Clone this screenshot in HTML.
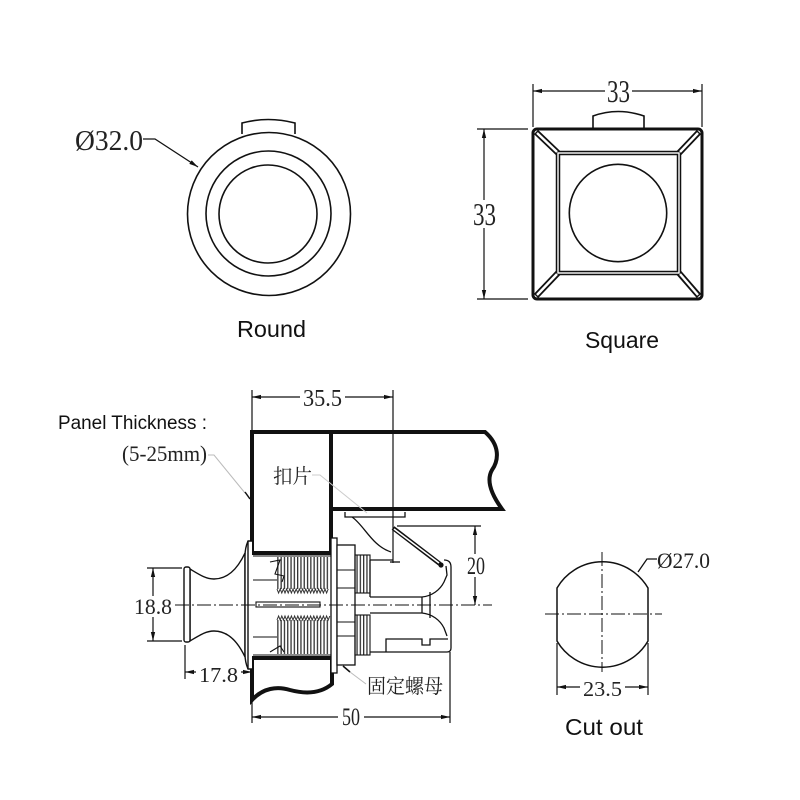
<!DOCTYPE html>
<html><head><meta charset="utf-8"><style>
html,body{margin:0;padding:0;background:#fff;}
svg{display:block;}
.s{font-family:"Liberation Serif","Noto Serif CJK SC",serif;fill:#222;}
.a{font-family:"Liberation Sans",sans-serif;fill:#111;}
.c{font-family:"Liberation Serif","Noto Serif CJK SC",serif;fill:#222;}
</style></head><body>
<svg width="800" height="800" viewBox="0 0 800 800" xmlns="http://www.w3.org/2000/svg">
<defs>
<marker id="ar" viewBox="0 0 10 10" refX="10" refY="5" markerUnits="userSpaceOnUse" markerWidth="9" markerHeight="9" orient="auto-start-reverse">
<path d="M0,2.6 L10,5 L0,7.4 z" fill="#111"/>
</marker>
<pattern id="th" width="3.3" height="10" patternUnits="userSpaceOnUse">
<rect x="0" y="0" width="1.3" height="10" fill="#333"/>
</pattern>
</defs>
<rect width="800" height="800" fill="#fff"/>

<!-- ROUND -->
<g fill="none" stroke="#111" stroke-width="1.6">
<path d="M242,134 L242,123 Q268,116 295,123 L295,134" fill="#fff"/>
<circle cx="269" cy="214" r="81.5" fill="#fff"/>
<circle cx="268.5" cy="213.5" r="62.5"/>
<circle cx="268" cy="214" r="49"/>
</g>
<text class="s" x="75" y="150" font-size="28" textLength="68" lengthAdjust="spacingAndGlyphs">Ø32.0</text>
<path d="M143,139 L155,139 L198,167" fill="none" stroke="#111" stroke-width="1.3" marker-end="url(#ar)"/>
<text class="a" x="237" y="337" font-size="23" textLength="69" lengthAdjust="spacingAndGlyphs">Round</text>

<!-- SQUARE -->
<g fill="none" stroke="#111">
<path d="M593,129 L593,116 Q618,107 644,116 L644,129" fill="#fff" stroke-width="1.6"/>
<rect x="533" y="129" width="169" height="170" rx="4" stroke-width="3" fill="#fff"/>
<g stroke-width="6">
<line x1="536" y1="132" x2="558" y2="153"/>
<line x1="699" y1="132" x2="679" y2="153"/>
<line x1="536" y1="296" x2="558" y2="273"/>
<line x1="699" y1="296" x2="679" y2="273"/>
</g>
<rect x="558" y="153" width="121" height="120" stroke-width="4.5"/>
<g stroke="#fff" stroke-width="2.4">
<line x1="537" y1="133" x2="557" y2="152"/>
<line x1="698" y1="133" x2="680" y2="152"/>
<line x1="537" y1="295" x2="557" y2="274"/>
<line x1="698" y1="295" x2="680" y2="274"/>
</g>
<rect x="558" y="153" width="121" height="120" stroke="#fff" stroke-width="1.4"/>
<circle cx="618" cy="213" r="48.7" stroke-width="1.6"/>
</g>
<!-- square dims -->
<g stroke="#111" stroke-width="1.2" fill="none">
<line x1="533" y1="84" x2="533" y2="127"/>
<line x1="702" y1="84" x2="702" y2="127"/>
<line x1="605" y1="91" x2="533" y2="91" marker-end="url(#ar)"/>
<line x1="632" y1="91" x2="702" y2="91" marker-end="url(#ar)"/>
<line x1="477" y1="129" x2="528" y2="129"/>
<line x1="477" y1="299" x2="528" y2="299"/>
<line x1="484" y1="200" x2="484" y2="129" marker-end="url(#ar)"/>
<line x1="484" y1="228" x2="484" y2="299" marker-end="url(#ar)"/>
</g>
<text class="s" x="607" y="102" font-size="32" textLength="23" lengthAdjust="spacingAndGlyphs">33</text>
<text class="s" x="473" y="225" font-size="32" textLength="23" lengthAdjust="spacingAndGlyphs">33</text>
<text class="a" x="585" y="348" font-size="23" textLength="74" lengthAdjust="spacingAndGlyphs">Square</text>

<!-- PANEL + LOCK -->
<text class="a" x="58" y="429" font-size="19" textLength="149" lengthAdjust="spacingAndGlyphs">Panel Thickness :</text>
<text class="s" x="122" y="461" font-size="22" textLength="85" lengthAdjust="spacingAndGlyphs">(5-25mm)</text>
<path d="M208,455 L214,455 L245,493" fill="none" stroke="#bbb" stroke-width="1"/>
<line x1="245" y1="492" x2="250" y2="499" stroke="#111" stroke-width="1.5"/>

<!-- 35.5 dim -->
<g stroke="#111" stroke-width="1.2" fill="none">
<line x1="252" y1="390" x2="252" y2="432"/>
<line x1="393" y1="390" x2="393" y2="563"/>
<line x1="300" y1="397" x2="252" y2="397" marker-end="url(#ar)"/>
<line x1="345" y1="397" x2="393" y2="397" marker-end="url(#ar)"/>
</g>
<text class="s" x="303" y="406" font-size="24" textLength="39" lengthAdjust="spacingAndGlyphs">35.5</text>

<!-- panel thick outline -->
<g fill="none" stroke="#111" stroke-width="4" stroke-linejoin="miter">
<path d="M252,553 L252,432 L485,432 C500,445 499,460 492,470 C485,482 494,498 502,509 L331,509"/>
<path d="M252,432 L252,553 L331,553 L331,432"/>
<path d="M252,658 L332,658 L332,684 C320,694 305,694 290,690 C277,686 263,688 252,700 Z"/>
</g>
<text class="c" x="273" y="483" font-size="20" textLength="39" lengthAdjust="spacingAndGlyphs">扣片</text>
<path d="M312,475 L320,475 L367,513" fill="none" stroke="#ccc" stroke-width="1"/>

<!-- bracket under panel -->
<g fill="none" stroke="#111" stroke-width="1.3">
<path d="M345,512 L345,517 L405,517 L405,512"/>
<path d="M352,517 C364,525 372,546 391,552"/>
<line x1="390" y1="562" x2="400" y2="562"/>
<line x1="397" y1="526" x2="481" y2="526"/>
</g>
<!-- latch diagonal -->
<line x1="393" y1="528" x2="440" y2="564" stroke="#111" stroke-width="4.5"/>
<line x1="394" y1="529" x2="439" y2="563" stroke="#fff" stroke-width="1.5"/>
<circle cx="441" cy="565" r="2.6" fill="#111"/>

<!-- knob -->
<g fill="#fff" stroke="#111" stroke-width="1.4">
<path d="M190,569 C200,575 206,579 214,579 C228,579 238,568 245,553 L245,657 C238,642 228,631 214,631 C206,631 200,635 190,641 Z"/>
<rect x="184" y="567" width="6" height="75" rx="2"/>
<path d="M252,541 L248,541 Q245,548 245,556 L245,654 Q245,662 248,669 L252,669"/>
<line x1="248" y1="541" x2="248" y2="669"/>
</g>

<!-- thread body -->
<g stroke="#111" stroke-width="1.1" fill="none">
<line x1="253" y1="580" x2="277" y2="580"/>
<line x1="253" y1="637" x2="277" y2="637"/>
<line x1="253" y1="556" x2="331" y2="556"/>
<line x1="253" y1="655" x2="331" y2="655"/>
</g>
<rect x="277" y="557" width="53" height="32" fill="url(#th)"/>
<rect x="277" y="620" width="53" height="34" fill="url(#th)"/>
<path d="M277,589 l1.6,4 l1.6,-4 l1.6,4 l1.6,-4 l1.6,4 l1.6,-4 l1.6,4 l1.6,-4 l1.6,4 l1.6,-4 l1.6,4 l1.6,-4 l1.6,4 l1.6,-4 l1.6,4 l1.6,-4 l1.6,4 l1.6,-4 l1.6,4 l1.6,-4 l1.6,4 l1.6,-4 l1.6,4 l1.6,-4 l1.6,4 l1.6,-4 l1.6,4 l1.6,-4 l1.6,4 l1.6,-4 l1.6,4 l1.6,-4" fill="none" stroke="#333" stroke-width="1"/>
<path d="M277,620 l1.6,-4 l1.6,4 l1.6,-4 l1.6,4 l1.6,-4 l1.6,4 l1.6,-4 l1.6,4 l1.6,-4 l1.6,4 l1.6,-4 l1.6,4 l1.6,-4 l1.6,4 l1.6,-4 l1.6,4 l1.6,-4 l1.6,4 l1.6,-4 l1.6,4 l1.6,-4 l1.6,4 l1.6,-4 l1.6,4 l1.6,-4 l1.6,4 l1.6,-4 l1.6,4 l1.6,-4 l1.6,4 l1.6,-4 l1.6,4 l1.6,-4" fill="none" stroke="#333" stroke-width="1"/>
<g fill="none" stroke="#111" stroke-width="1.1">
<path d="M270,562 L280,560 L275,574 L284,576 L282,582"/>
<path d="M270,652 L280,646 L284,652"/>
<rect x="256" y="602" width="64" height="5"/>
</g>

<!-- nut -->
<g fill="#fff" stroke="#111" stroke-width="1.3">
<rect x="331" y="538" width="6" height="135"/>
<rect x="337" y="545" width="18" height="120"/>
</g>
<g stroke="#111" stroke-width="1.1">
<line x1="337" y1="570" x2="355" y2="570"/>
<line x1="337" y1="588" x2="355" y2="588"/>
<line x1="337" y1="622" x2="355" y2="622"/>
<line x1="337" y1="636" x2="355" y2="636"/>
</g>
<rect x="355" y="555" width="15" height="38" fill="url(#th)"/>
<rect x="355" y="615" width="15" height="40" fill="url(#th)"/>
<g fill="none" stroke="#111" stroke-width="1.1">
<rect x="355" y="555" width="15" height="38"/>
<rect x="355" y="615" width="15" height="40"/>
</g>

<!-- body right -->
<g fill="none" stroke="#111" stroke-width="1.3">
<line x1="370" y1="560" x2="393" y2="560"/>
<path d="M370,597 L422,597 C432,596 440,590 444,582 L447,575 L446,566"/>
<path d="M370,613 L422,613 C432,614 440,620 444,628 L447,636"/>
<line x1="422" y1="597" x2="422" y2="613"/>
<line x1="430" y1="592" x2="430" y2="618"/>
<path d="M444,560 Q451,560 451,567 L451,648 Q451,652 447,652 L370,652"/>
<path d="M386,652 L386,639 L422,639 L422,645 L430,645 L430,639 L448,639"/>
<line x1="370" y1="597" x2="370" y2="560"/>
</g>

<!-- centerline -->
<line x1="175" y1="605" x2="492" y2="605" stroke="#111" stroke-width="1" stroke-dasharray="14 3 2 3"/>

<!-- 18.8 -->
<g stroke="#111" stroke-width="1.2" fill="none">
<line x1="147" y1="568" x2="182" y2="568"/>
<line x1="147" y1="641" x2="182" y2="641"/>
<line x1="153" y1="596" x2="153" y2="568" marker-end="url(#ar)"/>
<line x1="153" y1="617" x2="153" y2="641" marker-end="url(#ar)"/>
<line x1="185" y1="645" x2="185" y2="679"/>
<line x1="196" y1="672" x2="185" y2="672" marker-end="url(#ar)"/>
<line x1="241" y1="672" x2="252" y2="672" marker-end="url(#ar)"/>
</g>
<text class="s" x="134" y="614" font-size="22" textLength="38" lengthAdjust="spacingAndGlyphs">18.8</text>
<text class="s" x="199" y="682" font-size="21" textLength="39" lengthAdjust="spacingAndGlyphs">17.8</text>

<!-- 20 -->
<g stroke="#111" stroke-width="1.2" fill="none">
<line x1="475" y1="554" x2="475" y2="526" marker-end="url(#ar)"/>
<line x1="475" y1="577" x2="475" y2="605" marker-end="url(#ar)"/>
</g>
<text class="s" x="467" y="574" font-size="25" textLength="18" lengthAdjust="spacingAndGlyphs">20</text>

<!-- 50 -->
<g stroke="#111" stroke-width="1.2" fill="none">
<line x1="252" y1="700" x2="252" y2="723"/>
<line x1="450" y1="652" x2="450" y2="723"/>
<line x1="338" y1="717" x2="252" y2="717" marker-end="url(#ar)"/>
<line x1="364" y1="717" x2="450" y2="717" marker-end="url(#ar)"/>
</g>
<text class="s" x="342" y="725" font-size="25" textLength="18" lengthAdjust="spacingAndGlyphs">50</text>

<!-- 固定螺母 -->
<path d="M366,684 L350,672" fill="none" stroke="#bbb" stroke-width="1"/>
<line x1="350" y1="672" x2="343" y2="666" stroke="#111" stroke-width="1.5"/>
<text class="c" x="367" y="693" font-size="20" textLength="76" lengthAdjust="spacingAndGlyphs">固定螺母</text>

<!-- CUT OUT -->
<path d="M557,588 A52.6,52.6 0 0 1 648,588 L648,641 A52.6,52.6 0 0 1 557,641 Z" fill="none" stroke="#111" stroke-width="1.5"/>
<g stroke="#111" stroke-width="1" stroke-dasharray="14 3 2 3">
<line x1="545" y1="614" x2="662" y2="614"/>
<line x1="602" y1="552" x2="602" y2="672"/>
</g>
<path d="M657,559 L647,559 L638,572" fill="none" stroke="#111" stroke-width="1.3"/>
<text class="s" x="657" y="568" font-size="22" textLength="53" lengthAdjust="spacingAndGlyphs">Ø27.0</text>
<g stroke="#111" stroke-width="1.2" fill="none">
<line x1="557" y1="643" x2="557" y2="695"/>
<line x1="648" y1="643" x2="648" y2="695"/>
<line x1="580" y1="687" x2="557" y2="687" marker-end="url(#ar)"/>
<line x1="625" y1="687" x2="648" y2="687" marker-end="url(#ar)"/>
</g>
<text class="s" x="583" y="696" font-size="21" textLength="39" lengthAdjust="spacingAndGlyphs">23.5</text>
<text class="a" x="565" y="735" font-size="23" textLength="78" lengthAdjust="spacingAndGlyphs">Cut out</text>
</svg>
</body></html>
